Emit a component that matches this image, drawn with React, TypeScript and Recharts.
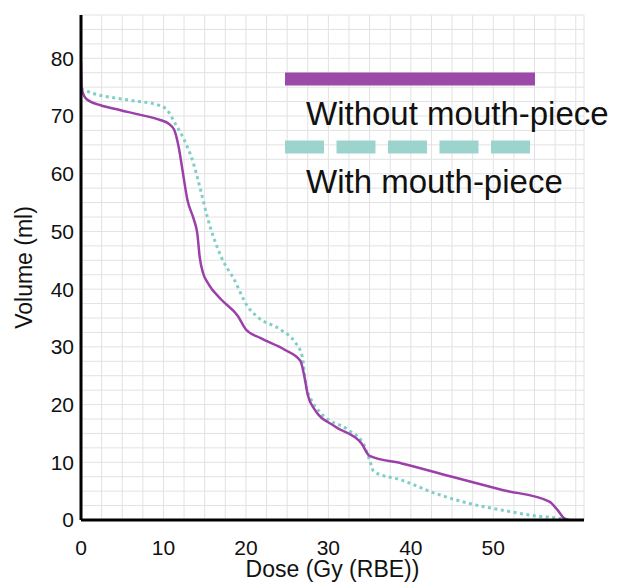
import React from "react";
import { LineChart, Line, XAxis, YAxis, CartesianGrid, Legend } from "recharts";

// dose (Gy (RBE)) vs volume (ml)
const withoutMouthpiece = [
  { dose: 0, volume: 79.5 }, { dose: 0.1, volume: 74.6 }, { dose: 0.7, volume: 72.9 },
  { dose: 2.3, volume: 71.9 }, { dose: 4.8, volume: 71.0 }, { dose: 7.2, volume: 70.2 },
  { dose: 9.6, volume: 69.3 }, { dose: 10.6, volume: 68.7 }, { dose: 11.3, volume: 67.6 },
  { dose: 11.9, volume: 64.2 }, { dose: 12.3, volume: 60.7 }, { dose: 12.9, volume: 55.5 },
  { dose: 13.7, volume: 52.0 }, { dose: 14.1, volume: 49.7 }, { dose: 14.4, volume: 45.5 },
  { dose: 14.8, volume: 42.8 }, { dose: 15.5, volume: 40.8 }, { dose: 17.0, volume: 38.2 },
  { dose: 19.0, volume: 35.4 }, { dose: 20.0, volume: 33.0 }, { dose: 21.8, volume: 31.5 },
  { dose: 24.7, volume: 29.5 }, { dose: 26.6, volume: 27.6 }, { dose: 27.1, volume: 24.8 },
  { dose: 27.5, volume: 21.7 }, { dose: 28.3, volume: 19.2 }, { dose: 30.8, volume: 16.2 },
  { dose: 34.0, volume: 13.3 }, { dose: 35.0, volume: 11.1 }, { dose: 38.9, volume: 9.8 },
  { dose: 45.0, volume: 7.5 }, { dose: 51.1, volume: 5.2 }, { dose: 56.8, volume: 3.2 },
  { dose: 57.8, volume: 1.7 }, { dose: 58.6, volume: 0.3 }, { dose: 59.2, volume: 0 },
];

const withMouthpiece = [
  { dose: 0, volume: 74.7 }, { dose: 1.5, volume: 73.9 }, { dose: 5.6, volume: 72.8 },
  { dose: 9.6, volume: 71.8 }, { dose: 10.4, volume: 71.1 }, { dose: 11.5, volume: 68.5 },
  { dose: 12.5, volume: 65.9 }, { dose: 13.5, volume: 62.4 }, { dose: 14.5, volume: 57.2 },
  { dose: 15.3, volume: 52.6 }, { dose: 17.0, volume: 45.6 }, { dose: 18.6, volume: 41.6 },
  { dose: 20.2, volume: 37.0 }, { dose: 21.4, volume: 35.2 }, { dose: 24.3, volume: 32.9 },
  { dose: 25.9, volume: 30.9 }, { dose: 26.8, volume: 28.5 }, { dose: 27.3, volume: 23.1 },
  { dose: 27.8, volume: 21.2 }, { dose: 29.1, volume: 18.5 }, { dose: 32.4, volume: 15.6 },
  { dose: 34.2, volume: 13.3 }, { dose: 35.0, volume: 10.4 }, { dose: 35.5, volume: 8.4 },
  { dose: 38.9, volume: 6.9 }, { dose: 43.0, volume: 4.6 }, { dose: 47.0, volume: 2.9 },
  { dose: 51.1, volume: 1.7 }, { dose: 55.2, volume: 0.7 }, { dose: 58.4, volume: 0.2 },
  { dose: 59.0, volume: 0 },
];

// grid every 2.5, labels only on the tens
const doseTicks = [0, 2.5, 5, 7.5, 10, 12.5, 15, 17.5, 20, 22.5, 25, 27.5, 30, 32.5, 35, 37.5, 40, 42.5, 45, 47.5, 50, 52.5, 55, 57.5, 60];
const volumeTicks = [0, 2.5, 5, 7.5, 10, 12.5, 15, 17.5, 20, 22.5, 25, 27.5, 30, 32.5, 35, 37.5, 40, 42.5, 45, 47.5, 50, 52.5, 55, 57.5, 60, 62.5, 65, 67.5, 70, 72.5, 75, 77.5, 80, 82.5, 85, 87.5];
const doseLabels = [0, 10, 20, 30, 40, 50];
const volumeLabels = [0, 10, 20, 30, 40, 50, 60, 70, 80];

const FONT = '"Liberation Sans", Arial, sans-serif';
const PURPLE = "#9b40a9";
const TEAL = "#80cfc6";

function LegendBox(props: any) {
  // solid series first, dotted one below it
  const items = [...(props.payload || [])].sort(
    (a: any, b: any) => (a.payload?.strokeDasharray ? 1 : 0) - (b.payload?.strokeDasharray ? 1 : 0)
  );
  return (
    <svg width={339} height={150} style={{ display: "block", overflow: "visible" }}>
      {items.map((item: any, i: number) => {
        const y = 19 + i * 68;
        const dashed = !!item.payload?.strokeDasharray;
        return (
          <g key={item.value}>
            <line
              x1={0}
              x2={dashed ? 245 : 250}
              y1={y}
              y2={y}
              stroke={dashed ? "#9dd3cd" : "#9b4aa9"}
              strokeWidth={13}
              strokeDasharray={dashed ? "39 12.5" : undefined}
            />
            <text x={21} y={y + 46} fontSize={33} fontFamily={FONT} fill="#111">
              {item.value}
            </text>
          </g>
        );
      })}
    </svg>
  );
}

export default function App() {
  return (
    <div style={{ position: "absolute", left: 0, top: 0, width: 624, height: 588, background: "#fff" }}>
      <LineChart width={624} height={588} margin={{ top: 15, right: 40, left: 0, bottom: 0 }}>
        <CartesianGrid stroke="#e2e2e2" strokeWidth={1} />
        <XAxis
          type="number"
          dataKey="dose"
          domain={[0, 61]}
          ticks={doseTicks}
          interval={0}
          allowDataOverflow
          height={68}
          tickLine={false}
          tickSize={0}
          tickMargin={20}
          axisLine={{ stroke: "#000", strokeWidth: 3 }}
          tickFormatter={(v: number) => (doseLabels.includes(v) ? String(v) : "")}
          tick={{ fill: "#111", fontSize: 21, fontFamily: FONT }}
          label={{ value: "Dose (Gy (RBE))", position: "insideBottom", offset: 11, style: { fill: "#111", fontSize: 23, fontFamily: FONT } }}
        />
        <YAxis
          type="number"
          domain={[0, 87.5]}
          ticks={volumeTicks}
          interval={0}
          allowDataOverflow
          width={81}
          tickLine={false}
          tickSize={0}
          tickMargin={7}
          axisLine={{ stroke: "#000", strokeWidth: 3 }}
          tickFormatter={(v: number) => (volumeLabels.includes(v) ? String(v) : "")}
          tick={{ fill: "#111", fontSize: 21, fontFamily: FONT }}
          label={{ value: "Volume (ml)", angle: -90, position: "insideLeft", offset: 24, style: { fill: "#111", fontSize: 23, fontFamily: FONT, textAnchor: "middle" } }}
        />
        <Legend
          content={<LegendBox />}
          wrapperStyle={{ position: "absolute", left: 285, top: 60, width: 339, height: 0, overflow: "visible" }}
        />
        <Line
          data={withMouthpiece}
          dataKey="volume"
          name="With mouth-piece"
          type="monotone"
          stroke={TEAL}
          strokeWidth={3}
          strokeDasharray="3 3.5"
          dot={false}
          isAnimationActive={false}
        />
        <Line
          data={withoutMouthpiece}
          dataKey="volume"
          name="Without mouth-piece"
          type="monotone"
          stroke={PURPLE}
          strokeWidth={2.5}
          dot={false}
          isAnimationActive={false}
        />
      </LineChart>
    </div>
  );
}
